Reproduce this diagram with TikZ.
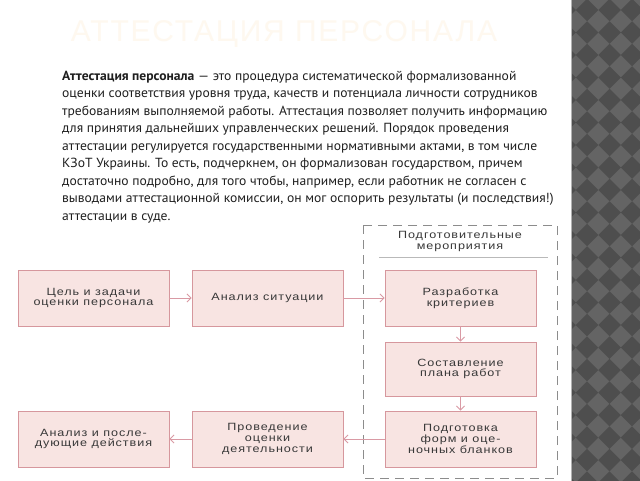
\documentclass[tikz,border=0pt]{standalone}
\usepackage{fontspec}
\setmainfont{PT Sans}[FakeStretch=1.03]
\newfontfamily\boxfont[FakeStretch=1.2,LetterSpace=9]{Liberation Sans}
\newfontfamily\titlefont[LetterSpace=6]{Liberation Sans}
\usetikzlibrary{arrows.meta}
\definecolor{boxfill}{HTML}{F8E4E2}
\definecolor{boxdraw}{HTML}{D6979D}
\definecolor{arrcol}{HTML}{D99AA4}
\definecolor{boxtext}{HTML}{383838}
\definecolor{stripdark}{HTML}{4E4E4E}
\definecolor{striplight}{HTML}{646464}
\definecolor{titlecol}{HTML}{FEF8EF}
\definecolor{dashcol}{HTML}{8C8C8C}
\tikzset{
  stage/.style={draw=boxdraw, fill=boxfill, line width=0.9pt, minimum width=151pt,
    minimum height=56pt, inner sep=0pt, align=center, text=boxtext,
    font=\boxfont\fontsize{10.5}{10.8}\selectfont},
  flow/.style={draw=arrcol, line width=0.8pt, -{Straight Barb[length=4pt,width=8pt]}},
  paraline/.style={anchor=base west, inner sep=0pt, text=black!88,
    font=\fontsize{13.2}{15}\selectfont}
}
\begin{document}
\begin{tikzpicture}[x=1pt,y=-1pt]
\useasboundingbox (0,0) rectangle (640,480);
\fill[white] (0,0) rectangle (640,480);
% decorative strip
\begin{scope}
\clip (571,-2) rectangle (642,482);
\fill[striplight] (571,-2) rectangle (642,482);
\foreach \i in {-1,...,3}{
  \foreach \j in {-1,...,22}{
    \fill[stripdark] (587+22.5*\i, 10+22.5*\j) +(-11.25,0) -- +(0,-11.25) -- +(11.25,0) -- +(0,11.25) -- cycle;
  }
}
\end{scope}
\draw[gray!60, line width=0.6pt] (571,-2) -- (571,482);
% title
\node[text=titlecol, font=\titlefont\fontsize{30}{32}\selectfont, inner sep=0pt] (title) at (284,34) {АТТЕСТАЦИЯ ПЕРСОНАЛА};
% paragraph
\node[paraline] (l1) at (62,80) {\textbf{Аттестация персонала} — это процедура систематической формализованной};
\node[paraline] (l2) at (62,97.5) {оценки соответствия уровня труда, качеств и потенциала личности сотрудников};
\node[paraline] (l3) at (62,115) {требованиям выполняемой работы. Аттестация позволяет получить информацию};
\node[paraline] (l4) at (62,132.5) {для принятия дальнейших управленческих решений. Порядок проведения};
\node[paraline] (l5) at (62,150) {аттестации регулируется государственными нормативными актами, в том числе};
\node[paraline] (l6) at (62,167.5) {КЗоТ Украины. То есть, подчеркнем, он формализован государством, причем};
\node[paraline] (l7) at (62,185) {достаточно подробно, для того чтобы, например, если работник не согласен с};
\node[paraline] (l8) at (62,202.5) {выводами аттестационной комиссии, он мог оспорить результаты (и последствия!)};
\node[paraline] (l9) at (62,220) {аттестации в суде.};
% dashed group
\draw[dashcol, line width=0.9pt, dash pattern=on 9pt off 6pt] (363,225) rectangle (557,478);
\node[inner sep=0pt, align=center, text=boxtext, font=\boxfont\fontsize{10.5}{10.8}\selectfont] (hdr) at (460,241.5) {Подготовительные\\мероприятия};
\draw[gray!55, line width=0.8pt] (379,257) -- (548,257);
% stages
\node[stage] (b1) at (93.5,298) {Цель и задачи\\оценки персонала};
\node[stage] (b2) at (267.5,298) {Анализ ситуации};
\node[stage] (b3) at (460.5,298) {Разработка\\критериев};
\node[stage, minimum height=54pt] (b4) at (460.5,369) {Составление\\плана работ};
\node[stage] (b5) at (460.5,439) {Подготовка\\форм и оце-\\ночных бланков};
\node[stage] (b6) at (267.5,439) {Проведение\\оценки\\деятельности};
\node[stage] (b7) at (93.5,439) {Анализ и после-\\дующие действия};
% connectors
\draw[flow] (b1) -- (b2);
\draw[flow] (b2) -- (b3);
\draw[flow] (b3) -- (b4);
\draw[flow] (b4) -- (b5);
\draw[flow] (b5) -- (b6);
\draw[flow] (b6) -- (b7);
\end{tikzpicture}
\end{document}
